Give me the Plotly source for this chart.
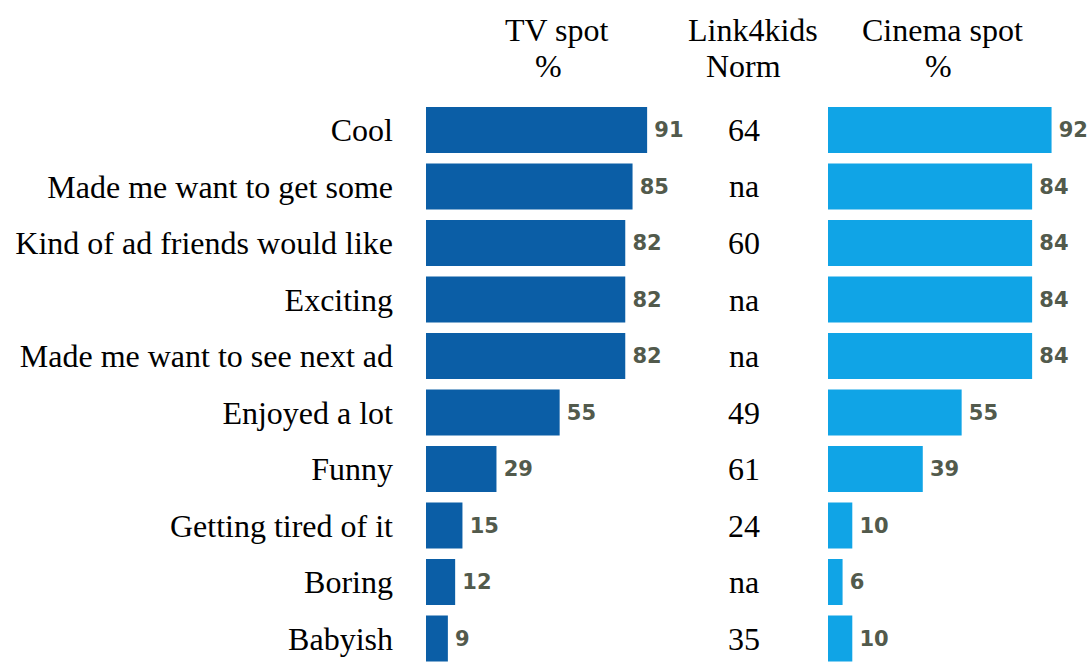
import plotly.graph_objects as go

W, H = 1089, 664

labels = ["Cool", "Made me want to get some", "Kind of ad friends would like", "Exciting",
          "Made me want to see next ad", "Enjoyed a lot", "Funny", "Getting tired of it",
          "Boring", "Babyish"]
tv_spot = [91, 85, 82, 82, 82, 55, 29, 15, 12, 9]
norm = ["64", "na", "60", "na", "na", "49", "61", "24", "na", "35"]
cinema_spot = [92, 84, 84, 84, 84, 55, 39, 10, 6, 10]

headers = [("TV spot", "%"), ("Link4kids", "Norm"), ("Cinema spot", "%")]

TV_COLOR = "#0b5ea6"
CINEMA_COLOR = "#10a4e6"
VAL_COLOR = "#525a4c"
SERIF = "Liberation Serif, Times New Roman, serif"

def px_x(p):
    return p / W

def px_y(p):
    return 1 - p / H

PITCH = 56.5
FIRST = 130.0
BAR_H = 46
val_font = dict(family="DejaVu Sans", size=21, color=VAL_COLOR, weight="bold")

fig = go.Figure()
fig.add_trace(go.Bar(
    y=labels, x=tv_spot, orientation="h", xaxis="x", yaxis="y",
    marker=dict(color=TV_COLOR, line=dict(width=0)),
    text=[str(v) for v in tv_spot], texttemplate="\u2009%{text}",
    textposition="outside", cliponaxis=False, textfont=val_font,
    showlegend=False, hoverinfo="skip"))
fig.add_trace(go.Bar(
    y=labels, x=cinema_spot, orientation="h", xaxis="x2", yaxis="y",
    marker=dict(color=CINEMA_COLOR, line=dict(width=0)),
    text=[str(v) for v in cinema_spot], texttemplate="\u2009%{text}",
    textposition="outside", cliponaxis=False, textfont=val_font,
    showlegend=False, hoverinfo="skip"))

annotations = []
for lab, n in zip(labels, norm):
    annotations.append(dict(text=n, x=px_x(744), xref="paper", y=lab, yref="y",
                            xanchor="center", yanchor="middle", showarrow=False,
                            font=dict(family=SERIF, size=32, color="black")))

header_x = [(557, 548), (753, 743), (942, 938)]
for (l1, l2), (x1, x2) in zip(headers, header_x):
    annotations.append(dict(text=l1, x=px_x(x1), xref="paper", y=px_y(30), yref="paper",
                            xanchor="center", yanchor="middle", showarrow=False,
                            font=dict(family=SERIF, size=32, color="black")))
    annotations.append(dict(text=l2, x=px_x(x2), xref="paper", y=px_y(66), yref="paper",
                            xanchor="center", yanchor="middle", showarrow=False,
                            font=dict(family=SERIF, size=32, color="black")))

top_px = FIRST - PITCH / 2
bottom_idx = (H - FIRST) / PITCH

fig.update_layout(
    width=W, height=H,
    margin=dict(l=0, r=0, t=0, b=0),
    paper_bgcolor="white", plot_bgcolor="white",
    bargap=1 - BAR_H / PITCH,
    xaxis=dict(domain=[px_x(426), px_x(669)], range=[0, 100], visible=False, anchor="y"),
    xaxis2=dict(domain=[px_x(828), px_x(1071)], range=[0, 100], visible=False, anchor="y"),
    yaxis=dict(domain=[0, px_y(top_px)], type="category", categoryorder="array",
               categoryarray=labels, range=[bottom_idx, -0.5], showgrid=False, zeroline=False,
               showline=False, ticks="", ticklabelstandoff=32,
               tickfont=dict(family=SERIF, size=32, color="black")),
    annotations=annotations,
)

fig.write_html("out.html", config={"displayModeBar": False},
               post_script="document.body.style.margin='0';document.body.style.overflow='hidden';")
